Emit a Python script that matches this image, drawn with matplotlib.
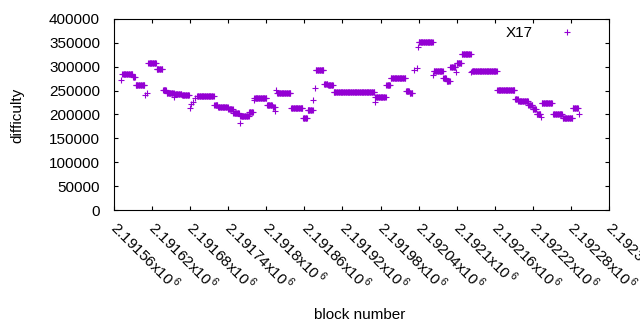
import numpy as np
import matplotlib
matplotlib.use("Agg")
import matplotlib.pyplot as plt

# runs of equal difficulty: first block, last block, difficulty
run_start = [2191571, 2191573, 2191590, 2191594, 2191609, 2191612, 2191614,
             2191627, 2191637, 2191643, 2191655, 2191656, 2191667, 2191680,
             2191682, 2191684, 2191688, 2191691, 2191718, 2191724, 2191740,
             2191748, 2191758, 2191759, 2191773, 2191780, 2191781, 2191801,
             2191810, 2191814, 2191816, 2191817, 2191839, 2191858, 2191865,
             2191874, 2191877, 2191878, 2191891, 2191897, 2191906, 2191971,
             2191972, 2191989, 2191996, 2192020, 2192026, 2192032, 2192037,
             2192039, 2192040, 2192063, 2192064, 2192079, 2192084, 2192090,
             2192099, 2192100, 2192108, 2192123, 2192124, 2192164, 2192192,
             2192197, 2192213, 2192220, 2192226, 2192233, 2192234, 2192252,
             2192267, 2192283, 2192292]
run_end = [2191571, 2191589, 2191593, 2191608, 2191609, 2191612, 2191626,
           2191636, 2191642, 2191654, 2191655, 2191666, 2191678, 2191680,
           2191682, 2191684, 2191688, 2191717, 2191723, 2191739, 2191747,
           2191757, 2191758, 2191772, 2191779, 2191780, 2191800, 2191809,
           2191813, 2191814, 2191816, 2191838, 2191857, 2191864, 2191873,
           2191874, 2191877, 2191890, 2191896, 2191905, 2191970, 2191971,
           2191988, 2191995, 2192019, 2192025, 2192030, 2192032, 2192037,
           2192039, 2192062, 2192063, 2192078, 2192083, 2192089, 2192098,
           2192099, 2192107, 2192122, 2192123, 2192163, 2192191, 2192196,
           2192212, 2192219, 2192225, 2192232, 2192233, 2192250, 2192266,
           2192282, 2192291, 2192292]
run_value = [272000, 285000, 279000, 262000, 240000, 246000, 307000,
             295000, 251000, 244000, 237000, 242000, 240000, 214000,
             222000, 227000, 235000, 238000, 219000, 215000, 211000,
             203000, 182000, 196000, 206000, 230000, 234000, 220000,
             216000, 207000, 252000, 246000, 213000, 192000, 209000,
             230000, 255000, 293000, 263000, 261000, 247000, 226000,
             236000, 261000, 276000, 249000, 244000, 293000, 298000,
             342000, 351000, 282000, 292000, 276000, 271000, 300000,
             289000, 307000, 326000, 290000, 291000, 251000, 232000,
             228000, 219000, 212000, 200000, 194000, 224000, 202000,
             193000, 213000, 201000]

x_ticks = [2191560, 2191620, 2191680, 2191740, 2191800, 2191860, 2191920,
           2191980, 2192040, 2192100, 2192160, 2192220, 2192280, 2192340]
x_labels = ["2.19156x10$^{\\,6}$", "2.19162x10$^{\\,6}$", "2.19168x10$^{\\,6}$",
            "2.19174x10$^{\\,6}$", "2.1918x10$^{\\,6}$", "2.19186x10$^{\\,6}$",
            "2.19192x10$^{\\,6}$", "2.19198x10$^{\\,6}$", "2.19204x10$^{\\,6}$",
            "2.1921x10$^{\\,6}$", "2.19216x10$^{\\,6}$", "2.19222x10$^{\\,6}$",
            "2.19228x10$^{\\,6}$", "2.19234x10$^{\\,6}$"]
y_ticks = [0, 50000, 100000, 150000, 200000, 250000, 300000, 350000, 400000]


def main():
    plt.rcParams['font.family'] = ['Liberation Sans', 'DejaVu Sans']
    plt.rcParams['font.size'] = 11
    plt.rcParams['mathtext.fontset'] = 'custom'
    plt.rcParams['mathtext.rm'] = 'Liberation Sans'

    blocks = np.concatenate([np.arange(s, e + 1) for s, e in zip(run_start, run_end)])
    diff = np.concatenate([np.full(e - s + 1, v) for s, e, v in zip(run_start, run_end, run_value)])

    fig = plt.figure(figsize=(6.4, 3.3), dpi=100)
    ax = fig.add_axes([114 / 640, 1 - 210 / 330, (609 - 114) / 640, (210 - 19) / 330])
    ax.plot(blocks, diff, linestyle="none", marker="+", markersize=5,
            markeredgewidth=0.8, color="#9400d3", label="X17")

    ax.set_xlim(2191560, 2192340)
    ax.set_ylim(0, 400000)
    ax.set_xticks(x_ticks)
    ax.set_xticklabels(x_labels, rotation=-45, ha="left", va="center",
                       rotation_mode="anchor")
    ax.set_yticks(y_ticks)
    ax.tick_params(direction="in", length=2.7, width=0.8, top=True, right=True)
    ax.tick_params(axis="x", pad=10)
    ax.tick_params(axis="y", pad=10)
    for s in ax.spines.values():
        s.set_linewidth(0.8)

    fig.text(360 / 640, 1 - 315 / 330, "block number", ha="center", va="center")
    fig.text(17 / 640, 1 - 115 / 330, "difficulty", ha="center", va="center",
             rotation=90)

    ax.legend(loc="upper right", bbox_to_anchor=(582 / 640, 1 - 26 / 330),
              bbox_transform=fig.transFigure, frameon=False, markerfirst=False,
              handlelength=2, handletextpad=1.2, borderpad=0, borderaxespad=0)

    fig.savefig("out.png", dpi=100)


if __name__ == "__main__":
    main()
